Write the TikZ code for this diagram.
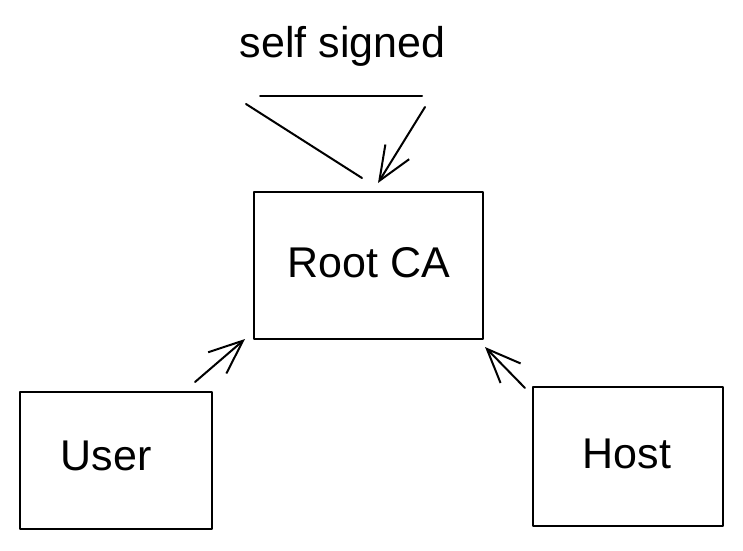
\documentclass[tikz,border=0pt]{standalone}
\usepackage{fontspec}
\setmainfont{Liberation Sans}
\usetikzlibrary{arrows.meta,calc}
\begin{document}
\begin{tikzpicture}[x=1pt,y=-1pt,
  box/.style={draw=black, line width=2.2pt, inner sep=0pt, outer sep=0pt, rectangle, line join=round},
  lbl/.style={font=\fontsize{43}{51}\selectfont, anchor=base, inner sep=0pt},
  stroke/.style={line width=2pt, line cap=round},
  conn/.style={line width=2pt, line cap=round, line join=round, -{Straight Barb[length=34pt,width=28pt]}}]
\useasboundingbox (0,0) rectangle (743,550);
\fill[white] (0,0) rectangle (743,550);
\node[box, minimum width=229pt, minimum height=147pt] (root) at (368.5,265.5) {};
\node[box, minimum width=192pt, minimum height=137pt] (user) at (116,460.5) {};
\node[box, minimum width=190pt, minimum height=139pt] (host) at (628,456.5) {};
\node[lbl] (rootlbl) at (369,277) {Root CA};
\node[lbl] (userlbl) at (106,470) {User};
\node[lbl] (hostlbl) at (627,468) {Host};
\node[lbl] (selflbl) at (342.5,57) {self signed};
\coordinate (l1) at (246,104);
\coordinate (h1) at (260,96);
\coordinate (h2) at (422,96);
\coordinate (a1) at (425,107);
\draw[stroke] (l1) -- ($(root.north west)+(108,-14)$);
\draw[stroke] (h1) -- (h2);
\draw[conn] (a1) -- ($(root.north)+(9.5,-9)$);
\draw[conn] ($(user.north east)+(-17,-10)$) -- ($(root.south west)+(-9,0)$);
\draw[conn] ($(host.north west)+(-8,1)$) -- ($(root.south east)+(2,8)$);
\end{tikzpicture}
\end{document}
